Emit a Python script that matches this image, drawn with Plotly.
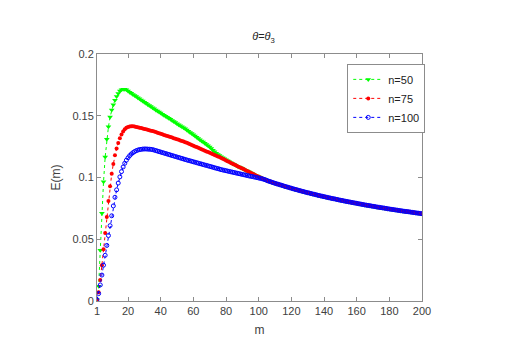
import plotly.graph_objects as go

# m = 1..200, one marker per m
m = list(range(1, 201))

# values for m = 1..104 (where the curves still differ)
e_n50 = [
    0.001, 0.012, 0.041, 0.071, 0.0966, 0.1166, 0.131, 0.141, 0.149, 0.1547,
    0.159, 0.1625, 0.1655, 0.168, 0.170, 0.171, 0.1715, 0.1715, 0.171, 0.170,
    0.1691, 0.1682, 0.1673, 0.1664, 0.1655, 0.1646, 0.1637, 0.1628, 0.1619, 0.1610,
    0.1601, 0.1592, 0.1583, 0.1574, 0.1565, 0.1556, 0.1547, 0.1539, 0.1530, 0.1522,
    0.1513, 0.1505, 0.1496, 0.1488, 0.1479, 0.1471, 0.1462, 0.1453, 0.1445, 0.1436,
    0.1428, 0.1419, 0.1411, 0.1402, 0.1394, 0.1385, 0.1375, 0.1365, 0.1356, 0.1346,
    0.1336, 0.1326, 0.1316, 0.1306, 0.1296, 0.1287, 0.1277, 0.1267, 0.1257, 0.1246,
    0.1234, 0.1220, 0.1208, 0.1197, 0.1187, 0.1178, 0.1169, 0.1160, 0.1151, 0.1143,
    0.1135, 0.1127, 0.1119, 0.1112, 0.1105, 0.1099, 0.1092, 0.1085, 0.1079, 0.1072,
    0.1066, 0.1059, 0.1052, 0.1046, 0.1039, 0.1033, 0.1026, 0.1019, 0.1013, 0.1006,
    0.1000, 0.0994, 0.0987, 0.0982,
]
e_n75 = [
    0.001, 0.007, 0.017, 0.029, 0.042, 0.055, 0.068, 0.081, 0.093, 0.103,
    0.111, 0.118, 0.1235, 0.128, 0.1318, 0.1348, 0.1372, 0.139, 0.1402, 0.1409,
    0.1413, 0.1414, 0.1414, 0.1412, 0.1409, 0.1406, 0.1403, 0.1400, 0.1396, 0.1393,
    0.1390, 0.1386, 0.1383, 0.1379, 0.1376, 0.1372, 0.1368, 0.1363, 0.1359, 0.1354,
    0.1350, 0.1345, 0.1341, 0.1336, 0.1332, 0.1327, 0.1323, 0.1318, 0.1314, 0.1309,
    0.1305, 0.1300, 0.1295, 0.1291, 0.1286, 0.1281, 0.1275, 0.1269, 0.1264, 0.1258,
    0.1252, 0.1246, 0.1240, 0.1235, 0.1229, 0.1223, 0.1217, 0.1211, 0.1206, 0.1200,
    0.1194, 0.1188, 0.1182, 0.1177, 0.1171, 0.1165, 0.1158, 0.1152, 0.1145, 0.1138,
    0.1132, 0.1125, 0.1118, 0.1112, 0.1105, 0.1099, 0.1092, 0.1085, 0.1079, 0.1072,
    0.1066, 0.1059, 0.1052, 0.1046, 0.1039, 0.1033, 0.1026, 0.1019, 0.1013, 0.1006,
    0.1000, 0.0994, 0.0987, 0.0982,
]
e_n100 = [
    0.001, 0.006, 0.013, 0.021, 0.029, 0.037, 0.045, 0.053, 0.061, 0.069,
    0.077, 0.084, 0.090, 0.0955, 0.1005, 0.1048, 0.1085, 0.1115, 0.114, 0.116,
    0.1177, 0.119, 0.1201, 0.121, 0.1217, 0.1222, 0.1226, 0.1228, 0.1230, 0.1231,
    0.1231, 0.1230, 0.1229, 0.1228, 0.1226, 0.1222, 0.1218, 0.1214, 0.1210, 0.1206,
    0.1202, 0.1198, 0.1194, 0.1190, 0.1186, 0.1182, 0.1178, 0.1174, 0.1170, 0.1166,
    0.1162, 0.1158, 0.1154, 0.1150, 0.1146, 0.1142, 0.1138, 0.1135, 0.1131, 0.1127,
    0.1124, 0.1120, 0.1116, 0.1112, 0.1109, 0.1105, 0.1101, 0.1098, 0.1094, 0.1090,
    0.1087, 0.1083, 0.1079, 0.1075, 0.1072, 0.1068, 0.1064, 0.1061, 0.1058, 0.1055,
    0.1052, 0.1049, 0.1046, 0.1043, 0.1040, 0.1037, 0.1034, 0.1031, 0.1028, 0.1025,
    0.1022, 0.1019, 0.1016, 0.1013, 0.1010, 0.1008, 0.1005, 0.1002, 0.0999, 0.0996,
    0.0993, 0.0990, 0.0986, 0.0982,
]
# m = 105..200, all three curves lie on top of each other
e_tail = [
    0.0976, 0.0971, 0.0967, 0.0962, 0.0958, 0.0953, 0.0949, 0.0945, 0.0941, 0.0937,
    0.0933, 0.0928, 0.0925, 0.0921, 0.0917, 0.0913, 0.0909, 0.0905, 0.0902, 0.0898,
    0.0894, 0.0891, 0.0887, 0.0884, 0.0880, 0.0877, 0.0874, 0.0870, 0.0867, 0.0864,
    0.0861, 0.0857, 0.0854, 0.0851, 0.0848, 0.0845, 0.0842, 0.0839, 0.0836, 0.0833,
    0.0830, 0.0828, 0.0825, 0.0822, 0.0819, 0.0816, 0.0814, 0.0811, 0.0808, 0.0806,
    0.0803, 0.0801, 0.0798, 0.0796, 0.0793, 0.0791, 0.0788, 0.0786, 0.0783, 0.0781,
    0.0778, 0.0776, 0.0774, 0.0772, 0.0769, 0.0767, 0.0765, 0.0762, 0.0760, 0.0758,
    0.0756, 0.0754, 0.0752, 0.0750, 0.0747, 0.0745, 0.0743, 0.0741, 0.0739, 0.0737,
    0.0735, 0.0733, 0.0731, 0.0729, 0.0727, 0.0725, 0.0724, 0.0722, 0.0720, 0.0718,
    0.0716, 0.0714, 0.0712, 0.0711, 0.0709, 0.0707,
]

x_ticks = [1, 20, 40, 60, 80, 100, 120, 140, 160, 180, 200]
y_ticks = [0, 0.05, 0.1, 0.15, 0.2]
y_tick_text = ['0', '0.05', '0.1', '0.15', '0.2']

FONT = 'Liberation Sans, Arial, sans-serif'
AXIS_COLOR = '#8c8c8c'
TEXT_COLOR = '#404040'

fig = go.Figure(
    data=[
        go.Scatter(name='n=50', x=m, y=e_n50 + e_tail, mode='lines+markers',
                   line=dict(color='#00ff00', width=1, dash='dot'),
                   marker=dict(symbol='triangle-down', size=5, color='#00ff00')),
        go.Scatter(name='n=75', x=m, y=e_n75 + e_tail, mode='lines+markers',
                   line=dict(color='#ff0000', width=1, dash='dot'),
                   marker=dict(symbol='circle', size=4, color='#ff0000')),
        go.Scatter(name='n=100', x=m, y=e_n100 + e_tail, mode='lines+markers',
                   line=dict(color='#0000ff', width=1, dash='dot'),
                   marker=dict(symbol='circle-open', size=4, color='#0000ff',
                               line=dict(width=1, color='#0000ff'))),
    ]
)

axis_style = dict(showline=True, linecolor=AXIS_COLOR, linewidth=1, mirror='ticks',
                  ticks='inside', ticklen=4, tickcolor=AXIS_COLOR, showgrid=False,
                  zeroline=False, tickfont=dict(family=FONT, size=11, color=TEXT_COLOR))

fig.update_xaxes(range=[1, 200], tickvals=x_ticks, **axis_style,
                 title=dict(text='m', font=dict(family=FONT, size=12, color=TEXT_COLOR), standoff=9))
fig.update_yaxes(range=[0, 0.2], tickvals=y_ticks, ticktext=y_tick_text, **axis_style,
                 title=dict(text='E(m)', font=dict(family=FONT, size=12, color=TEXT_COLOR), standoff=9))

# the page body has an 8px margin, so the figure is a little smaller than the window
fig.update_layout(
    width=509, height=355, autosize=False,
    paper_bgcolor='white', plot_bgcolor='white',
    margin=dict(l=89, r=95, t=46, b=62),
    title=dict(text='<i>θ</i>=<i>θ</i><sub>3</sub>', x=0.502, xanchor='center',
               y=0.92, yanchor='middle', font=dict(family=FONT, size=11, color='#222222')),
    font=dict(family=FONT, size=11, color=TEXT_COLOR),
    showlegend=True,
    legend=dict(x=0.77, y=0.96, xanchor='left', yanchor='top', bgcolor='white',
                bordercolor=AXIS_COLOR, borderwidth=1, itemwidth=30,
                font=dict(family=FONT, size=11, color='#222222')),
)

fig.write_html('out.html')
